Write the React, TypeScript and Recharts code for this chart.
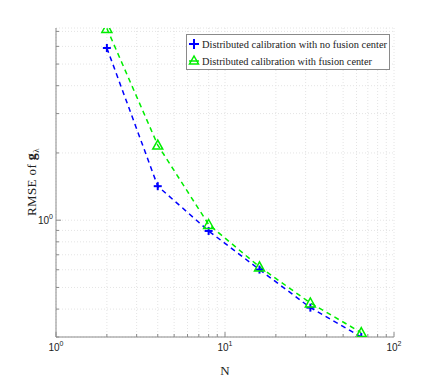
import React from "react";
import {
  LineChart,
  Line,
  XAxis,
  YAxis,
  CartesianGrid,
  Legend,
} from "recharts";

// network sizes
const nodes = [2, 4, 8, 16, 32, 64];
// RMSE values
const rmseNoFusion = [5.9, 1.42, 0.895, 0.601, 0.406, 0.3];
const rmseWithFusion = [7.22, 2.17, 0.957, 0.618, 0.426, 0.314];

const seriesNames = [
  "Distributed calibration with no fusion center",
  "Distributed calibration with fusion center",
];

const xTicks = [1, 2, 3, 4, 5, 6, 7, 8, 9, 10, 20, 30, 40, 50, 60, 70, 80, 90, 100];
const yTicks = [0.3, 0.4, 0.5, 0.6, 0.7, 0.8, 0.9, 1, 2, 3, 4, 5, 6, 7];

const BLUE = "#0000ff";
const GREEN = "#00ee00";
const AXIS = "#8a8a8a";

const chartData = nodes.map((n, i) => ({
  n,
  noFc: rmseNoFusion[i],
  withFc: rmseWithFusion[i],
}));

const decade = (v: number) => {
  const e = Math.log10(v);
  return Math.abs(e - Math.round(e)) < 1e-9 ? Math.round(e) : null;
};

const BottomTick = (props: any) => {
  const { x, y, payload } = props;
  const e = decade(payload.value);
  return (
    <g>
      <line x1={x} x2={x} y1={y} y2={y - (e !== null ? 5 : 3)} stroke={AXIS} />
      {e !== null && (
        <text
          x={x}
          y={y + 14}
          textAnchor="middle"
          fontFamily="Liberation Sans"
          fontSize={10}
          fill="#222"
        >
          10
          <tspan dy={-5} fontSize={7}>
            {e}
          </tspan>
        </text>
      )}
    </g>
  );
};

const TopTick = (props: any) => {
  const { x, y, payload } = props;
  const e = decade(payload.value);
  return <line x1={x} x2={x} y1={y} y2={y + (e !== null ? 5 : 3)} stroke={AXIS} />;
};

const LeftTick = (props: any) => {
  const { x, y, payload } = props;
  const e = decade(payload.value);
  return (
    <g>
      <line x1={x} x2={x + (e !== null ? 5 : 3)} y1={y} y2={y} stroke={AXIS} />
      {e !== null && (
        <text
          x={x - 3}
          y={y + 4}
          textAnchor="end"
          fontFamily="Liberation Sans"
          fontSize={10}
          fill="#222"
        >
          10
          <tspan dy={-5} fontSize={7}>
            {e}
          </tspan>
        </text>
      )}
    </g>
  );
};

const RightTick = (props: any) => {
  const { x, y, payload } = props;
  const e = decade(payload.value);
  return <line x1={x} x2={x - (e !== null ? 5 : 3)} y1={y} y2={y} stroke={AXIS} />;
};

const PlusDot = (props: any) => {
  const { cx, cy } = props;
  if (cx == null || cy == null) return <g />;
  return (
    <g stroke={BLUE} strokeWidth={2}>
      <line x1={cx - 4} x2={cx + 4} y1={cy} y2={cy} />
      <line x1={cx} x2={cx} y1={cy - 4} y2={cy + 4} />
    </g>
  );
};

const TriangleDot = (props: any) => {
  const { cx, cy } = props;
  if (cx == null || cy == null) return <g />;
  return (
    <polygon
      points={`${cx},${cy - 5} ${cx - 5},${cy + 4} ${cx + 5},${cy + 4}`}
      fill="none"
      stroke={GREEN}
      strokeWidth={1.5}
    />
  );
};

const LegendBox = () => (
  <svg width={204} height={36} style={{ display: "block" }}>
    <rect x={0.5} y={0.5} width={203} height={35} fill="#fff" stroke={AXIS} />
    <g stroke={BLUE} strokeWidth={2}>
      <line x1={3} x2={13} y1={10} y2={10} />
      <line x1={8} x2={8} y1={5} y2={15} />
    </g>
    <line x1={3} x2={13} y1={27} y2={27} stroke={GREEN} strokeWidth={1.5} />
    <polygon points="8,22 3.5,30 12.5,30" fill="none" stroke={GREEN} strokeWidth={1.5} />
    <text
      x={16}
      y={14}
      fontFamily="Liberation Serif"
      fontSize={10.5}
      fill="#222"
      textLength={185}
      lengthAdjust="spacingAndGlyphs"
    >
      {seriesNames[0]}
    </text>
    <text
      x={16}
      y={31}
      fontFamily="Liberation Serif"
      fontSize={10.5}
      fill="#222"
      textLength={170}
      lengthAdjust="spacingAndGlyphs"
    >
      {seriesNames[1]}
    </text>
  </svg>
);

export default function App() {
  return (
    <div style={{ position: "absolute", left: 0, top: 0, background: "#fff" }}>
      <LineChart
        width={436}
        height={382}
        data={chartData}
        margin={{ top: 28, right: 42, bottom: 0, left: 0 }}
      >
        <CartesianGrid stroke="#e4e4e4" strokeDasharray="1 2" />
        <XAxis
          dataKey="n"
          type="number"
          scale="log"
          domain={[1, 100]}
          allowDataOverflow
          ticks={xTicks}
          interval={0}
          height={45}
          tickSize={0}
          tickMargin={0}
          tick={<BottomTick />}
          tickLine={false}
          axisLine={{ stroke: AXIS }}
          label={(p: any) => {
            const vb = p.viewBox;
            return (
              <text
                x={vb.x + vb.width / 2}
                y={375}
                textAnchor="middle"
                fontFamily="Liberation Serif"
                fontSize={13}
                fill="#222"
              >
                N
              </text>
            );
          }}
        />
        <XAxis
          xAxisId="top"
          orientation="top"
          dataKey="n"
          type="number"
          scale="log"
          domain={[1, 100]}
          allowDataOverflow
          ticks={xTicks}
          interval={0}
          height={0}
          tickSize={0}
          tickMargin={0}
          tick={<TopTick />}
          tickLine={false}
          axisLine={{ stroke: AXIS }}
        />
        <YAxis
          type="number"
          scale="log"
          domain={[0.3, 7.25]}
          allowDataOverflow
          ticks={yTicks}
          interval={0}
          width={56}
          tickSize={0}
          tickMargin={0}
          tick={<LeftTick />}
          tickLine={false}
          axisLine={{ stroke: AXIS }}
          label={(p: any) => {
            const vb = p.viewBox;
            const cx = 36;
            const cy = vb.y + 154;
            return (
              <text
                transform={`rotate(-90 ${cx} ${cy})`}
                x={cx}
                y={cy}
                textAnchor="middle"
                fontFamily="Liberation Serif"
                fontSize={13}
                letterSpacing={0.4}
                fill="#222"
              >
                RMSE of{" "}
                <tspan fontWeight="bold" fontSize={14}>
                  g
                </tspan>
                <tspan dy={3} fontSize={9}>
                  λ
                </tspan>
              </text>
            );
          }}
        />
        <YAxis
          yAxisId="right"
          orientation="right"
          type="number"
          scale="log"
          domain={[0.3, 7.25]}
          allowDataOverflow
          ticks={yTicks}
          interval={0}
          width={0}
          tickSize={0}
          tickMargin={0}
          tick={<RightTick />}
          tickLine={false}
          axisLine={{ stroke: AXIS }}
        />
        <Legend
          layout="horizontal"
          verticalAlign="middle"
          align="center"
          width={204}
          content={() => <LegendBox />}
          wrapperStyle={{ left: 186, top: 34, width: 204, height: 36 }}
        />
        <Line
          type="linear"
          dataKey="noFc"
          name={seriesNames[0]}
          stroke={BLUE}
          strokeWidth={1.5}
          strokeDasharray="5 4"
          dot={<PlusDot />}
          isAnimationActive={false}
        />
        <Line
          type="linear"
          dataKey="withFc"
          name={seriesNames[1]}
          stroke={GREEN}
          strokeWidth={1.5}
          strokeDasharray="5 4"
          dot={<TriangleDot />}
          isAnimationActive={false}
        />
      </LineChart>
    </div>
  );
}
